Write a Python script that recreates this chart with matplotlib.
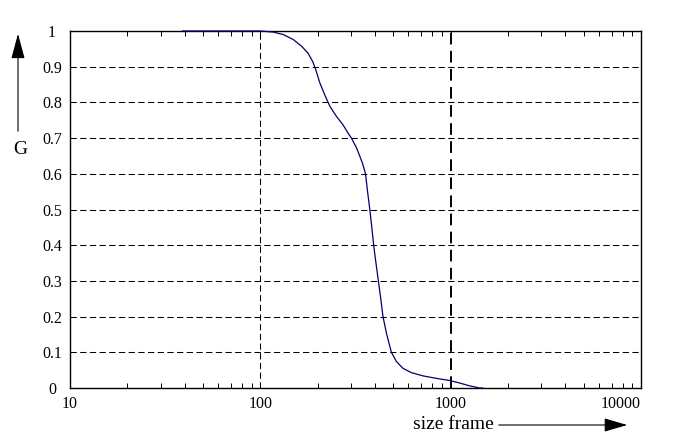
import numpy as np
import matplotlib
matplotlib.use('Agg')
import matplotlib.pyplot as plt
from matplotlib.patches import FancyArrowPatch

# ===== DATA

size_frame = [39, 100, 117, 132, 149, 165, 178, 189, 196, 205, 218, 232,
              251, 272, 289, 301, 320, 326, 344, 357, 365, 376, 385, 394,
              402, 417, 430, 441, 460, 488, 519, 562, 622, 715, 841, 988,
              1115, 1258, 1420, 1470]
G = [1.0, 1.0, 0.997, 0.99, 0.976, 0.957, 0.938, 0.913, 0.89, 0.856, 0.821,
     0.789, 0.761, 0.737, 0.714, 0.7, 0.673, 0.662, 0.63, 0.6, 0.555, 0.5,
     0.451, 0.4, 0.363, 0.3, 0.247, 0.2, 0.153, 0.1, 0.074, 0.055, 0.043,
     0.034, 0.027, 0.021, 0.014, 0.006, 0.0, 0.0]

x_ticks = [10, 100, 1000, 10000]
x_ticklabels = ['10', '100', '1000', '10000']
y_ticks = [0, 0.1, 0.2, 0.3, 0.4, 0.5, 0.6, 0.7, 0.8, 0.9, 1]
y_ticklabels = ['0', '0.1', '0.2', '0.3', '0.4', '0.5', '0.6', '0.7',
                '0.8', '0.9', '1']
h_grid = [0.1, 0.2, 0.3, 0.4, 0.5, 0.6, 0.7, 0.8, 0.9]
v_grid = [100, 1000]
v_grid_width = [0.75, 1.4]

# ===== DISPLAY

plt.rcParams['font.family'] = ['Liberation Serif', 'DejaVu Serif']

fig = plt.figure(figsize=(6.9, 4.44), dpi=100)
ax = fig.add_axes([70 / 690, 1 - 388 / 444, 571 / 690, 357 / 444])

dash = (0, (6, 3.3))
for y in h_grid:
    ax.axhline(y, color='black', lw=0.75, linestyle=dash, zorder=1)
for x, w in zip(v_grid, v_grid_width):
    ax.axvline(x, color='black', lw=w, linestyle=dash, zorder=1)

ax.plot(size_frame, G, color='#000070', lw=0.9, clip_on=False, zorder=3)

ax.set_xscale('log')
ax.set_xlim(10, 10000)
ax.set_ylim(0, 1)

ax.set_xticks(x_ticks, labels=x_ticklabels)
ax.set_yticks(y_ticks, labels=y_ticklabels)
ax.xaxis.set_minor_locator(matplotlib.ticker.LogLocator(base=10, subs=np.arange(2, 10)))
ax.xaxis.set_minor_formatter(matplotlib.ticker.NullFormatter())

ax.tick_params(axis='x', which='both', direction='in', top=True, length=3.5,
               width=0.7, labelsize=11.5, pad=5.5)
ax.tick_params(axis='y', length=0, labelsize=11.5, pad=13)
for lab in ax.get_yticklabels():
    lab.set_ha('center')
ax.get_xticklabels()[-1].set_ha('right')

for sp in ax.spines.values():
    sp.set_linewidth(1.0)

# axis titles with arrows, as in the original drawing
fig.text(413 / 690, 1 - 424 / 444, 'size frame', fontsize=14,
         ha='left', va='center')
fig.add_artist(FancyArrowPatch((496 / 690, 1 - 425 / 444), (630 / 690, 1 - 425 / 444),
                               transform=fig.transFigure, arrowstyle='-|>,head_length=1.2,head_width=0.35',
                               mutation_scale=12, color='black', lw=0.8))
fig.text(20 / 690, 1 - 149 / 444, 'G', fontsize=14, ha='center', va='center')
fig.add_artist(FancyArrowPatch((18 / 690, 1 - 134 / 444), (18 / 690, 1 - 31 / 444),
                               transform=fig.transFigure, arrowstyle='-|>,head_length=1.3,head_width=0.35',
                               mutation_scale=12, color='black', lw=0.8))

plt.savefig('out.png', dpi=100)
